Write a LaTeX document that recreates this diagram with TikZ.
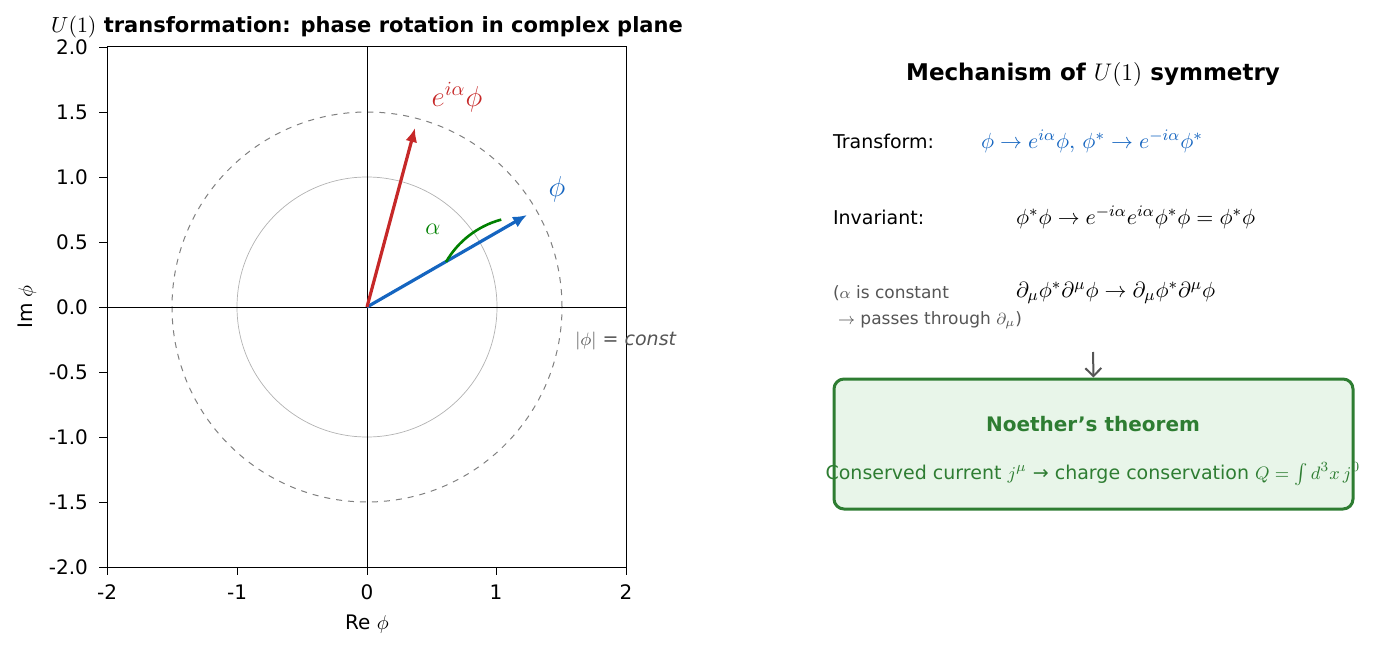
\documentclass[tikz,border=0pt]{standalone}
\usepackage{fontspec}
\setmainfont{DejaVu Sans}
\usetikzlibrary{arrows.meta}
\definecolor{cblue}{HTML}{1565C0}
\definecolor{cred}{HTML}{C62828}
\definecolor{cgreen}{HTML}{2E7D32}
\definecolor{lgreen}{HTML}{E8F5E9}
\definecolor{tgray}{HTML}{555555}
\begin{document}
\begin{tikzpicture}[x=0.5pt,y=-0.5pt,
  tick/.style={font=\fontsize{10}{12}\selectfont},
  lbl/.style={font=\fontsize{9.5}{11}\selectfont,anchor=west},
  vec/.style={line width=1.6pt,-{Latex[length=7pt,width=6pt]}}]
\useasboundingbox (0,0) rectangle (1391,652);
% circles
\draw[gray!60,line width=0.35pt] (367,307) circle[x radius=130,y radius=-130];
\draw[gray,dashed,line width=0.5pt] (367,307) circle[x radius=195,y radius=-195];
\draw[black,line width=0.3pt] (107,307) -- (626,307);
\draw[black,line width=0.3pt] (367,47) -- (367,567);
\draw[line width=0.5pt] (107,47) rectangle (626,567);
% ticks
\foreach \x/\t in {107/-2,237/-1,367/0,496/1,626/2}{
  \draw (\x,567) -- (\x,575);
  \node[tick,anchor=north] at (\x,578) {\t};}
\foreach \y/\t in {47/2.0,112/1.5,177/1.0,242/0.5,307/0.0,372/-0.5,437/-1.0,502/-1.5,567/-2.0}{
  \draw (107,\y) -- (99,\y);
  \node[tick,anchor=east] at (95,\y) {\t};}
\node[tick] (xl) at (367,624) {Re $\phi$};
\node[tick,rotate=90] (yl) at (27,307) {Im $\phi$};
\node[font=\bfseries\fontsize{10.5}{12}\selectfont] (title) at (367,27) {$U(1)$ transformation: phase rotation in complex plane};
% vectors
\coordinate (O) at (367,307);
\coordinate (P) at (527,215);
\coordinate (R) at (415,128);
\draw[vec,cblue] (O) -- (P);
\draw[vec,cred] (O) -- (R);
\draw[line width=1.3pt,green!50!black] (446,262) arc[start angle=30,end angle=75,radius=-91];
\node[font=\fontsize{14}{16}\selectfont,text=cred] (el) at (457,97) {$e^{i\alpha}\phi$};
\node[font=\fontsize{14}{16}\selectfont,text=cblue] (pl) at (557,189) {$\phi$};
\node[font=\fontsize{12}{14}\selectfont,text=green!50!black] (al) at (433,229) {$\alpha$};
\node[font=\fontsize{9.5}{11}\selectfont,text=tgray] (cl) at (626,341) {$|\phi|$ = \textit{const}};
% right panel
\node[font=\bfseries\fontsize{11.5}{14}\selectfont] (rt) at (1093,75) {Mechanism of $U(1)$ symmetry};
\node[lbl] (t1) at (826,141) {Transform:};
\node[lbl,text=cblue,font=\fontsize{11}{13}\selectfont] (f1) at (974,141) {$\phi\to e^{i\alpha}\phi,\,\phi^*\to e^{-i\alpha}\phi^*$};
\node[lbl] (t2) at (826,217) {Invariant:};
\node[lbl,font=\fontsize{11}{13}\selectfont] (f2) at (1009,217) {$\phi^*\phi\to e^{-i\alpha}e^{i\alpha}\phi^*\phi=\phi^*\phi$};
\node[lbl,text=tgray,font=\fontsize{8.5}{10}\selectfont] (t3) at (826,293) {($\alpha$ is constant};
\node[lbl,text=tgray,font=\fontsize{8.5}{10}\selectfont] (t3b) at (831,320) {$\to$ passes through $\partial_\mu$)};
\node[lbl,font=\fontsize{11}{13}\selectfont] (f3) at (1009,293) {$\partial_\mu\phi^*\partial^\mu\phi\to\partial_\mu\phi^*\partial^\mu\phi$};
\node[draw=cgreen,fill=lgreen,line width=1.5pt,rounded corners=5pt,minimum width=259.5pt,minimum height=65pt] (box) at (1093.5,444) {};
\draw[tgray,line width=1pt,-{Straight Barb[length=4pt]}] (1093,352) -- (box.north);
\node[font=\bfseries\fontsize{10}{12}\selectfont,text=cgreen] (nt) at (1093,424) {Noether's theorem};
\node[font=\fontsize{9.5}{11}\selectfont,text=cgreen] (nc) at (1093,474) {Conserved current $j^\mu$ → charge conservation $Q=\int d^3x\,j^0$};
\end{tikzpicture}
\end{document}
